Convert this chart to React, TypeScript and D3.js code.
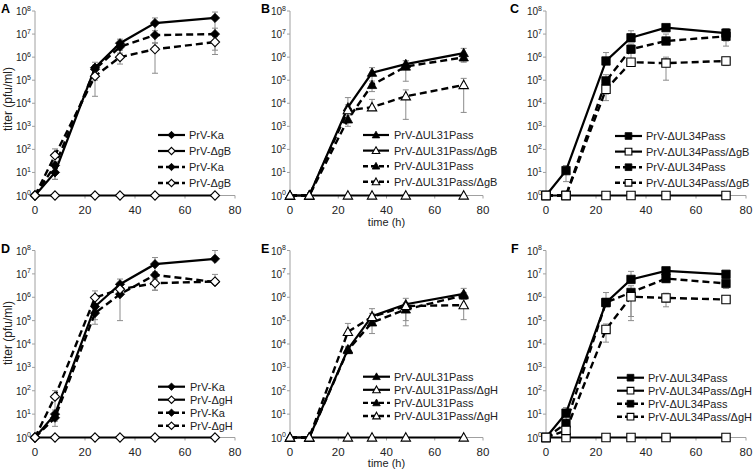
import React from "react";
import * as d3 from "d3";

// ---------- data ----------
const times = [0, 8, 24, 34, 48, 72];
const xTicks = [0, 20, 40, 60, 80];
const yTickExps = [0, 1, 2, 3, 4, 5, 6, 7, 8];

// Panel A (gB, Ka)
const aKaSolid = [1, 10, 3.5e5, 4e6, 3e7, 5e7];
const aKaSolidSd = [0, 5, 2.5e5, 2e6, 2e7, 4e7];
const aGbSolid = [1, 1, 1, 1, 1, 1];
const aGbSolidSd = [0, 0, 0, 0, 0, 0];
const aKaDashed = [1, 20, 3e5, 2.8e6, 9e6, 1e7];
const aKaDashedSd = [0, 10, 1.5e5, 1.5e6, 5e6, 8e6];
const aGbDashed = [1, 55, 1.5e5, 1e6, 2.2e6, 4.5e6];
const aGbDashedSd = [0, 50, 1.3e5, 5e5, 2e6, 3.2e6];

// Panel B (UL31, gB)
const bUlSolid = [1, 1, 6.6e3, 2.1e5, 5e5, 1.5e6];
const bUlSolidSd = [0, 0, 1.1e4, 1.4e5, 2e5, 9e5];
const bGbSolid = [1, 1, 1, 1, 1, 1];
const bGbSolidSd = [0, 0, 0, 0, 0, 0];
const bUlDashed = [1, 1, 2e3, 6.2e4, 3.9e5, 9.8e5];
const bUlDashedSd = [0, 0, 1e3, 3e4, 3e5, 3e5];
const bGbDashed = [1, 1, 5e3, 6.7e3, 2e4, 6.2e4];
const bGbDashedSd = [0, 0, 3.5e3, 8e3, 1.8e4, 5.8e4];

// Panel C (UL34, gB)
const cUlSolid = [1, 12, 6.8e5, 6.9e6, 1.9e7, 1.1e7];
const cUlSolidSd = [0, 8, 9e5, 7e6, 5e6, 6e6];
const cGbSolid = [1, 1, 1, 1, 1, 1];
const cGbSolidSd = [0, 0, 0, 0, 0, 0];
const cUlDashed = [1, 1, 9.3e4, 2.2e6, 5e6, 8e6];
const cUlDashedSd = [0, 0, 8e4, 1.5e6, 5e6, 5e6];
const cGbDashed = [1, 1, 4e4, 6e5, 5.5e5, 6.8e5];
const cGbDashedSd = [0, 0, 1.5e4, 1e5, 4.5e5, 2.5e5];

// Panel D (gH, Ka)
const dKaSolid = [1, 10, 4e5, 3.6e6, 2.6e7, 4.4e7];
const dKaSolidSd = [0, 5, 1.5e5, 2.4e6, 2.4e7, 5.6e7];
const dGhSolid = [1, 1, 1, 1, 1, 1];
const dGhSolidSd = [0, 0, 0, 0, 0, 0];
const dKaDashed = [1, 7, 2.1e5, 1.35e6, 9e6, 4.5e6];
const dKaDashedSd = [0, 4, 1e5, 1.25e6, 3e6, 5e6];
const dGhDashed = [1, 56, 9.7e5, 2.2e6, 4e6, 4.7e6];
const dGhDashedSd = [0, 45, 9e5, 1e6, 2e6, 1e6];

// Panel E (UL31, gH)
const eUlSolid = [1, 1, 6e3, 1.55e5, 5e5, 1.4e6];
const eUlSolidSd = [0, 0, 2e3, 1.7e5, 4e5, 1e6];
const eGhSolid = [1, 1, 1, 1, 1, 1];
const eGhSolidSd = [0, 0, 0, 0, 0, 0];
const eUlDashed = [1, 1, 5.5e3, 8.4e4, 3e5, 1.2e6];
const eUlDashedSd = [0, 0, 1.5e3, 5.6e4, 2.4e5, 4e5];
const eGhDashed = [1, 1, 3.3e4, 1.45e5, 4.2e5, 4.6e5];
const eGhDashedSd = [0, 0, 4.3e4, 6e4, 1.5e5, 3.5e5];

// Panel F (UL34, gH)
const fUlSolid = [1, 11, 5.9e5, 5.8e6, 1.35e7, 9.6e6];
const fUlSolidSd = [0, 8, 1e6, 7e6, 3e6, 3e6];
const fGhSolid = [1, 1, 1, 1, 1, 1];
const fGhSolidSd = [0, 0, 0, 0, 0, 0];
const fUlDashed = [1, 4, 6e5, 1.6e6, 6.3e6, 3.9e6];
const fUlDashedSd = [0, 2, 2e5, 1.5e6, 2e6, 1.5e6];
const fGhDashed = [1, 2, 4.2e4, 1.05e6, 9.4e5, 8e5];
const fGhDashedSd = [0, 1, 3e4, 9e5, 5.5e5, 2e5];

const legendA = ["PrV-Ka", "PrV-ΔgB", "PrV-Ka", "PrV-ΔgB"];
const legendB = ["PrV-ΔUL31Pass", "PrV-ΔUL31Pass/ΔgB", "PrV-ΔUL31Pass", "PrV-ΔUL31Pass/ΔgB"];
const legendC = ["PrV-ΔUL34Pass", "PrV-ΔUL34Pass/ΔgB", "PrV-ΔUL34Pass", "PrV-ΔUL34Pass/ΔgB"];
const legendD = ["PrV-Ka", "PrV-ΔgH", "PrV-Ka", "PrV-ΔgH"];
const legendE = ["PrV-ΔUL31Pass", "PrV-ΔUL31Pass/ΔgH", "PrV-ΔUL31Pass", "PrV-ΔUL31Pass/ΔgH"];
const legendF = ["PrV-ΔUL34Pass", "PrV-ΔUL34Pass/ΔgH", "PrV-ΔUL34Pass", "PrV-ΔUL34Pass/ΔgH"];

const yTitle = "titer (pfu/ml)";
const xTitle = "time (h)";

// ---------- layout ----------
const cols = [
  { x0: 35, x1: 235 },
  { x0: 290, x1: 483 },
  { x0: 546, x1: 746 },
];
const rows = [
  { yTop: 11, yBot: 195.5, labelY: 13, xLabY: 214, xTitleY: 226, yTitleY: 99 },
  { yTop: 250.5, yBot: 437.5, labelY: 253, xLabY: 455.5, xTitleY: 467, yTitleY: 333 },
];

type Shape = "diamond" | "triangle" | "square";

const panels = [
  { letter: "A", col: 0, row: 0, shape: "diamond" as Shape, labels: legendA, letterX: 1,
    values: [aKaSolid, aGbSolid, aKaDashed, aGbDashed], sds: [aKaSolidSd, aGbSolidSd, aKaDashedSd, aGbDashedSd],
    leg: { lx0: 158, lx1: 185, tx: 189, y0: 135, dy: 16 }, showY: true, showX: false },
  { letter: "B", col: 1, row: 0, shape: "triangle" as Shape, labels: legendB, letterX: 261,
    values: [bUlSolid, bGbSolid, bUlDashed, bGbDashed], sds: [bUlSolidSd, bGbSolidSd, bUlDashedSd, bGbDashedSd],
    leg: { lx0: 363, lx1: 389, tx: 394, y0: 135, dy: 15.6 }, showY: false, showX: true },
  { letter: "C", col: 2, row: 0, shape: "square" as Shape, labels: legendC, letterX: 510,
    values: [cUlSolid, cGbSolid, cUlDashed, cGbDashed], sds: [cUlSolidSd, cGbSolidSd, cUlDashedSd, cGbDashedSd],
    leg: { lx0: 615, lx1: 642, tx: 646, y0: 136, dy: 15.6 }, showY: false, showX: false },
  { letter: "D", col: 0, row: 1, shape: "diamond" as Shape, labels: legendD, letterX: 1,
    values: [dKaSolid, dGhSolid, dKaDashed, dGhDashed], sds: [dKaSolidSd, dGhSolidSd, dKaDashedSd, dGhDashedSd],
    leg: { lx0: 158, lx1: 185, tx: 190, y0: 386.7, dy: 13 }, showY: true, showX: false },
  { letter: "E", col: 1, row: 1, shape: "triangle" as Shape, labels: legendE, letterX: 261,
    values: [eUlSolid, eGhSolid, eUlDashed, eGhDashed], sds: [eUlSolidSd, eGhSolidSd, eUlDashedSd, eGhDashedSd],
    leg: { lx0: 363, lx1: 390, tx: 394, y0: 376.7, dy: 13.1 }, showY: false, showX: true },
  { letter: "F", col: 2, row: 1, shape: "square" as Shape, labels: legendF, letterX: 511,
    values: [fUlSolid, fGhSolid, fUlDashed, fGhDashed], sds: [fUlSolidSd, fGhSolidSd, fUlDashedSd, fGhDashedSd],
    leg: { lx0: 617, lx1: 644, tx: 648, y0: 377.7, dy: 13 }, showY: false, showX: false },
];

const FONT = "'Liberation Sans', Arial, sans-serif";
const AXIS = "#a0a0a0";
const ERR = "#8c8c8c";

function markerPath(shape: Shape, s: number) {
  if (shape === "diamond") {
    const r = 4.6 * s;
    return `M0,${-r}L${r},0L0,${r}L${-r},0Z`;
  }
  if (shape === "triangle") {
    const w = 4.7 * s, t = 4.8 * s, b = 3.6 * s;
    return `M0,${-t}L${w},${b}L${-w},${b}Z`;
  }
  const h = 4.2 * s;
  return `M${-h},${-h}H${h}V${h}H${-h}Z`;
}

function Marker({ shape, filled, x, y, s = 1 }: { shape: Shape; filled: boolean; x: number; y: number; s?: number }) {
  return (
    <path
      d={markerPath(shape, s)}
      transform={`translate(${x},${y})`}
      fill={filled ? "#000" : "#fff"}
      stroke="#000"
      strokeWidth={filled ? 0.8 : 1.1}
    />
  );
}

function Panel({ p }: { p: (typeof panels)[number] }) {
  const c = cols[p.col];
  const r = rows[p.row];
  const x = d3.scaleLinear().domain([0, 80]).range([c.x0, c.x1]);
  const y = d3.scaleLog().domain([1, 1e8]).range([r.yBot, r.yTop]);
  const line = d3
    .line<number>()
    .x((_, i) => x(times[i]))
    .y((d) => y(d));

  const dashedOf = (i: number) => i >= 2;
  const filledOf = (i: number) => i % 2 === 0;
  const capW = 3;

  return (
    <g>
      {/* axes */}
      <line x1={c.x0} x2={c.x0} y1={r.yTop} y2={r.yBot} stroke={AXIS} strokeWidth={1} />
      <line x1={c.x0} x2={c.x1} y1={r.yBot} y2={r.yBot} stroke={AXIS} strokeWidth={1} />
      {yTickExps.map((e) => (
        <g key={"yt" + e}>
          <line x1={c.x0 - 3} x2={c.x0} y1={y(Math.pow(10, e))} y2={y(Math.pow(10, e))} stroke={AXIS} />
          <text x={c.x0 - 4} y={y(Math.pow(10, e)) + 4} textAnchor="end" fontFamily={FONT} fontSize={10} fill="#222">
            <tspan>10</tspan>
            <tspan dy={-4.5} fontSize={7}>{e}</tspan>
          </text>
        </g>
      ))}
      {xTicks.map((t) => (
        <g key={"xt" + t}>
          <line x1={x(t)} x2={x(t)} y1={r.yBot} y2={r.yBot + 3} stroke={AXIS} />
          <text x={x(t)} y={r.xLabY} textAnchor="middle" fontFamily={FONT} fontSize={11.5} fill="#222">
            {t}
          </text>
        </g>
      ))}
      {p.showX && (
        <text x={(c.x0 + c.x1) / 2} y={r.xTitleY} textAnchor="middle" fontFamily={FONT} fontSize={11} fill="#222">
          {xTitle}
        </text>
      )}
      {p.showY && (
        <text
          transform={`translate(12,${r.yTitleY}) rotate(-90)`}
          textAnchor="middle"
          fontFamily={FONT}
          fontSize={12}
          fill="#222"
        >
          {yTitle}
        </text>
      )}
      <text x={p.letterX} y={r.labelY} fontFamily={FONT} fontWeight="bold" fontSize={12.5} fill="#000">
        {p.letter}
      </text>

      {/* error bars */}
      {p.values.map((vals, si) =>
        vals.map((v, i) => {
          const sd = p.sds[si][i];
          if (!sd) return null;
          const up = y(v + sd);
          const lowV = v - sd;
          const lo = lowV > 0 ? y(Math.max(lowV, 1)) : null;
          const xx = x(times[i]);
          return (
            <g key={`e${si}-${i}`} stroke={ERR} strokeWidth={1}>
              <line x1={xx} x2={xx} y1={up} y2={lo ?? y(v)} />
              <line x1={xx - capW} x2={xx + capW} y1={up} y2={up} />
              {lo !== null && <line x1={xx - capW} x2={xx + capW} y1={lo} y2={lo} />}
            </g>
          );
        })
      )}

      {/* lines */}
      {p.values.map((vals, si) => (
        <path
          key={"l" + si}
          d={line(vals) || ""}
          fill="none"
          stroke="#000"
          strokeWidth={dashedOf(si) ? 2.4 : 2.2}
          strokeDasharray={dashedOf(si) ? "7,4" : undefined}
        />
      ))}

      {/* markers */}
      {p.values.map((vals, si) =>
        vals.map((v, i) => (
          <Marker key={`m${si}-${i}`} shape={p.shape} filled={filledOf(si)} x={x(times[i])} y={y(v)} />
        ))
      )}

      {/* legend */}
      {p.labels.map((lab, i) => {
        const ly = p.leg.y0 + i * p.leg.dy;
        return (
          <g key={"lg" + i}>
            <line
              x1={p.leg.lx0}
              x2={p.leg.lx1}
              y1={ly}
              y2={ly}
              stroke="#000"
              strokeWidth={dashedOf(i) ? 2.4 : 2.2}
              strokeDasharray={dashedOf(i) ? "5,3" : undefined}
            />
            <Marker shape={p.shape} filled={filledOf(i)} x={(p.leg.lx0 + p.leg.lx1) / 2} y={ly} s={0.8} />
            <text x={p.leg.tx} y={ly} dy="0.36em" fontFamily={FONT} fontSize={11} fill="#222">
              {lab}
            </text>
          </g>
        );
      })}
    </g>
  );
}

export default function App() {
  return (
    <svg
      width={754}
      height={469}
      viewBox="0 0 754 469"
      style={{ position: "absolute", left: 0, top: 0, background: "#fff" }}
    >
      <rect width={754} height={469} fill="#fff" />
      {panels.map((p) => (
        <Panel key={p.letter} p={p} />
      ))}
    </svg>
  );
}
